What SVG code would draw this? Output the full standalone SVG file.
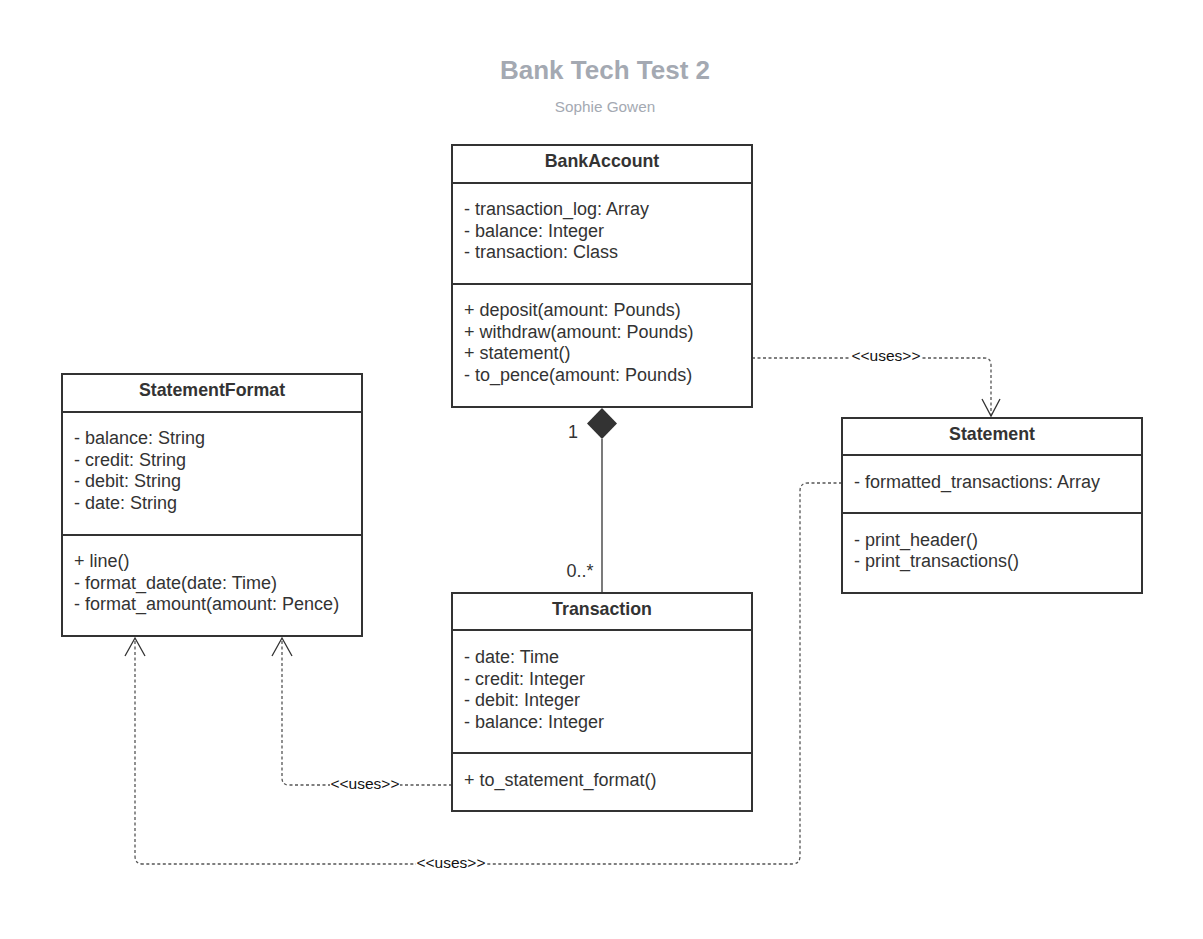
<svg xmlns="http://www.w3.org/2000/svg" width="1203" height="939" viewBox="0 0 1203 939">
<style>
.box{fill:#fff;stroke:#333;stroke-width:2}
.div{stroke:#333;stroke-width:2}
.t{font-family:"Liberation Sans",Arial,sans-serif;font-size:18px;fill:#333}
.h{font-family:"Liberation Sans",Arial,sans-serif;font-size:17.8px;font-weight:bold;fill:#333;text-anchor:middle}
.dash{fill:none;stroke:#555;stroke-width:1.3;stroke-dasharray:3,2.5}
.arr{fill:none;stroke:#333;stroke-width:1.3}
.lbl{font-family:"Liberation Sans",Arial,sans-serif;font-size:15.5px;fill:#111;text-anchor:middle}
.lblbg{fill:#fff}
</style>
<rect width="1203" height="939" fill="#fff"/>
<text x="605" y="79" font-family="Liberation Sans,Arial,sans-serif" font-size="26" font-weight="bold" fill="#a4a9b2" text-anchor="middle">Bank Tech Test 2</text>
<text x="605" y="112" font-family="Liberation Sans,Arial,sans-serif" font-size="15.3" fill="#a4a9b2" text-anchor="middle">Sophie Gowen</text>

<g id="connectors">
  <path class="dash" d="M752,358 H984 Q991,358 991,365 V416"/>
  <path class="arr" d="M982,399 L991,416 L1000,399"/>
  <rect class="lblbg" x="851" y="348" width="70" height="16"/>
  <text class="lbl" x="886" y="361">&lt;&lt;uses&gt;&gt;</text>

  <line x1="602" y1="439" x2="602" y2="593" stroke="#333" stroke-width="1.3"/>
  <polygon points="602,408 617,423.5 602,439 587,423.5" fill="#333"/>
  <text x="573" y="438" class="t" text-anchor="middle">1</text>
  <text x="580" y="577" class="t" text-anchor="middle">0..*</text>

  <path class="dash" d="M452,785 H289 Q282,785 282,778 V638"/>
  <path class="arr" d="M272,656 L282,638 L292,656"/>
  <rect class="lblbg" x="330" y="776" width="70" height="16"/>
  <text class="lbl" x="365" y="789">&lt;&lt;uses&gt;&gt;</text>

  <path class="dash" d="M842,483 H808 Q800,483 800,491 V856 Q800,864 792,864 H143 Q135,864 135,856 V638"/>
  <path class="arr" d="M125,656 L135,638 L145,656"/>
  <rect class="lblbg" x="416" y="855" width="70" height="16"/>
  <text class="lbl" x="451" y="868">&lt;&lt;uses&gt;&gt;</text>
</g>

<g id="BankAccount">
  <rect class="box" x="452" y="145" width="300" height="262"/>
  <line class="div" x1="452" y1="183" x2="752" y2="183"/>
  <line class="div" x1="452" y1="284" x2="752" y2="284"/>
  <text class="h" x="602" y="167">BankAccount</text>
  <text class="t" x="464" y="215">- transaction_log: Array</text>
  <text class="t" x="464" y="237">- balance: Integer</text>
  <text class="t" x="464" y="258">- transaction: Class</text>
  <text class="t" x="464" y="316">+ deposit(amount: Pounds)</text>
  <text class="t" x="464" y="338">+ withdraw(amount: Pounds)</text>
  <text class="t" x="464" y="359">+ statement()</text>
  <text class="t" x="464" y="381">- to_pence(amount: Pounds)</text>
</g>

<g id="StatementFormat">
  <rect class="box" x="62" y="374" width="300" height="262"/>
  <line class="div" x1="62" y1="412" x2="362" y2="412"/>
  <line class="div" x1="62" y1="535" x2="362" y2="535"/>
  <text class="h" x="212" y="396">StatementFormat</text>
  <text class="t" x="74" y="444">- balance: String</text>
  <text class="t" x="74" y="466">- credit: String</text>
  <text class="t" x="74" y="487">- debit: String</text>
  <text class="t" x="74" y="509">- date: String</text>
  <text class="t" x="74" y="567">+ line()</text>
  <text class="t" x="74" y="589">- format_date(date: Time)</text>
  <text class="t" x="74" y="610">- format_amount(amount: Pence)</text>
</g>

<g id="Statement">
  <rect class="box" x="842" y="418" width="300" height="175"/>
  <line class="div" x1="842" y1="455" x2="1142" y2="455"/>
  <line class="div" x1="842" y1="513" x2="1142" y2="513"/>
  <text class="h" x="992" y="440">Statement</text>
  <text class="t" x="854" y="488">- formatted_transactions: Array</text>
  <text class="t" x="854" y="546">- print_header()</text>
  <text class="t" x="854" y="567">- print_transactions()</text>
</g>

<g id="Transaction">
  <rect class="box" x="452" y="593" width="300" height="218"/>
  <line class="div" x1="452" y1="630" x2="752" y2="630"/>
  <line class="div" x1="452" y1="753" x2="752" y2="753"/>
  <text class="h" x="602" y="615">Transaction</text>
  <text class="t" x="464" y="663">- date: Time</text>
  <text class="t" x="464" y="685">- credit: Integer</text>
  <text class="t" x="464" y="706">- debit: Integer</text>
  <text class="t" x="464" y="728">- balance: Integer</text>
  <text class="t" x="464" y="786">+ to_statement_format()</text>
</g>
</svg>
